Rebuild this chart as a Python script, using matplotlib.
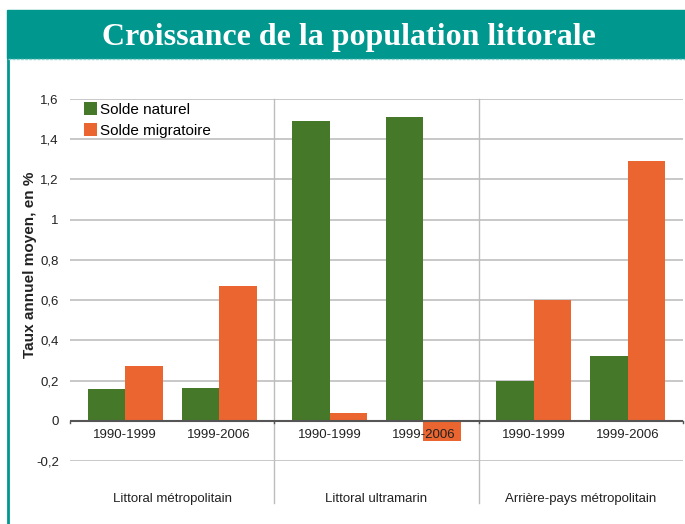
import numpy as np
import matplotlib.pyplot as plt
from matplotlib.patches import Rectangle
from matplotlib.lines import Line2D
from matplotlib.ticker import FuncFormatter

# --- DATA ---
groups = ['Littoral métropolitain', 'Littoral ultramarin', 'Arrière-pays métropolitain']
periods = ['1990-1999', '1999-2006']
solde_naturel = [0.16, 0.165, 1.49, 1.51, 0.20, 0.32]
solde_migratoire = [0.27, 0.67, 0.04, -0.10, 0.60, 1.29]
yticks = [-0.2, 0, 0.2, 0.4, 0.6, 0.8, 1.0, 1.2, 1.4, 1.6]

# --- STYLE ---
TEAL = '#00978f'
GREEN = '#46782a'
ORANGE = '#eb6530'
plt.rcParams['font.family'] = ['Liberation Sans', 'DejaVu Sans']

W, H = 685, 524
fig = plt.figure(figsize=(W / 100, H / 100), dpi=100)

# title banner and frame
fig.patches.append(Rectangle((7 / W, 1 - 58 / H), 1 - 7 / W, 48 / H,
                             transform=fig.transFigure, color=TEAL, zorder=0))
fig.text(349 / W, 1 - 37 / H, 'Croissance de la population littorale',
         family=['Liberation Serif', 'DejaVu Serif'], weight='bold',
         fontsize=23, color='white', ha='center', va='center')
fig.add_artist(Line2D([8 / W, 8 / W], [0, 1 - 58 / H], transform=fig.transFigure,
                      color=TEAL, lw=2))
fig.add_artist(Line2D([8 / W, 1], [1 - 58.5 / H, 1 - 58.5 / H], transform=fig.transFigure,
                      color='#8fd3ce', lw=1, ls=(0, (2, 1))))

ax = fig.add_axes([70 / W, 1 - 461 / H, 613 / W, 362 / H])

# category positions: two periods per group, groups are 2 units wide
group_centers = np.array([1.0, 3.0, 5.0])
x = np.ravel([[c - 0.46, c + 0.46] for c in group_centers])
bw = 0.366

ax.bar(x - bw / 2, solde_naturel, bw, color=GREEN, label='Solde naturel', zorder=3)
ax.bar(x + bw / 2, solde_migratoire, bw, color=ORANGE, label='Solde migratoire', zorder=3)

ax.set_xlim(0, 6)
ax.set_ylim(-0.2, 1.6)
ax.set_yticks(yticks)
ax.yaxis.set_major_formatter(FuncFormatter(lambda v, p: f'{v:g}'.replace('.', ',')))
ax.tick_params(axis='y', length=0, pad=8, labelsize=9.5, labelcolor='#222222')
ax.set_xticks([])
for s in ax.spines.values():
    s.set_visible(False)

# horizontal grid
for v in yticks:
    if v == 0:
        ax.axhline(0, color='#555555', lw=1.5, zorder=4)
    else:
        ax.axhline(v, color='#c4c4c4', lw=1.3, zorder=1)

# small ticks on the zero line at group boundaries
for b in [0, 2, 4, 6]:
    ax.plot([b, b], [0, -0.012], color='#555555', lw=1, clip_on=False, zorder=4)

# group separators going down through the label area
for b in [2, 4]:
    ax.plot([b, b], [-0.116, 1.0], transform=ax.get_xaxis_transform(),
            color='#bdbdbd', lw=1, clip_on=False, zorder=1)

# period labels under the zero line
for xi, lab in zip(x, periods * 3):
    ax.annotate(lab, (xi, 0), xytext=(0, -6), textcoords='offset points',
                ha='center', va='top', fontsize=9.5, color='#222222', zorder=5)

# group labels
for gc, g in zip(group_centers, groups):
    ax.annotate(g, (gc, -0.2), xytext=(0, -23), textcoords='offset points',
                ha='center', va='top', fontsize=9.5, color='#222222', annotation_clip=False)

ax.set_ylabel('Taux annuel moyen, en %', fontsize=11, weight='bold', color='#222222')
ax.yaxis.set_label_coords(-33 / 613, 0.541)

ax.legend(loc='upper left', bbox_to_anchor=(14 / 613, 1 - 3 / 362), frameon=False,
          fontsize=11, handlelength=0.85, handleheight=0.9, handletextpad=0.2,
          labelspacing=0.42, borderpad=0, borderaxespad=0)

fig.savefig('out.png', dpi=100)
